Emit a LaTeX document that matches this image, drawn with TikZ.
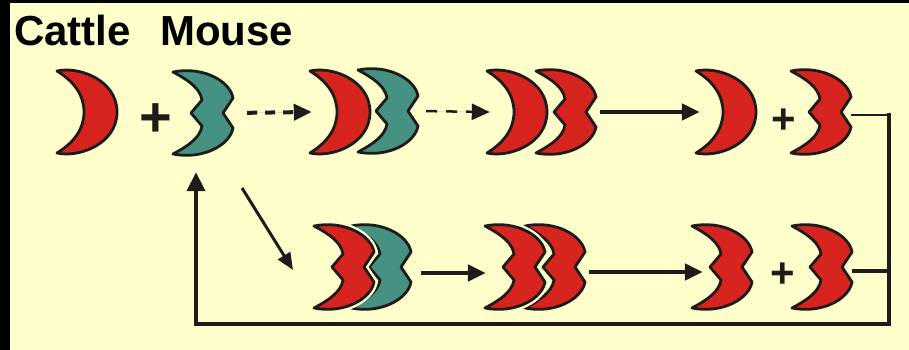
\documentclass[tikz,border=0pt]{standalone}
\usepackage{fontspec}
\setmainfont{Liberation Sans}
\usetikzlibrary{arrows.meta}
\definecolor{paleyellow}{RGB}{255,255,204}
\definecolor{cattlered}{RGB}{216,36,30}
\definecolor{mouseteal}{RGB}{69,146,131}
\definecolor{inkblack}{RGB}{30,27,26}

\begin{document}
\begin{tikzpicture}[x=1pt, y=-1pt,
    outline/.style={draw=inkblack, line width=2.8pt, line join=round},
    shape extra/.style={},
    gap/.style={preaction={draw=paleyellow, line width=7.5pt, line join=round}},
    slot/.style={minimum width=60pt, minimum height=84pt, inner sep=0pt},
    title/.style={font=\bfseries\fontsize{42}{46}\selectfont, inner sep=0pt, anchor=base west},
    plus/.style={font=\bfseries\fontsize{#1}{#1}\selectfont, inner sep=0pt, text=inkblack},
    pics/cattle/.style={code={
        \path[outline, fill=#1, shape extra] (-30,41) .. controls (-8,46) and (30,32) .. (30,0)
            .. controls (30,-32) and (-8,-46) .. (-30,-41)
            .. controls (-12,-30) and (-3,-16) .. (-3,0)
            .. controls (-3,16) and (-12,30) .. cycle;}},
    pics/mouse/.style={code={
        \path[outline, fill=#1, shape extra] (-30,41) .. controls (0,47) and (27,32) .. (30,15)
            -- (20,0) -- (30,-15) .. controls (27,-32) and (0,-47) .. (-30,-41)
            .. controls (-15,-33) and (-3,-25) .. (-1,-13) -- (-12,0) -- (-1,13)
            .. controls (-3,25) and (-15,33) .. cycle;}},
    tip/.style={-{Triangle[length=18pt, width=16pt]}, draw=inkblack, fill=inkblack},
    dasharrow/.style={tip, line width=4pt, dash pattern=on 10pt off 8pt},
    thindash/.style={tip, line width=2.5pt, dash pattern=on 11pt off 9pt},
    solidarrow/.style={tip, line width=4.5pt},
    loopline/.style={draw=inkblack, line width=4pt},
  ]
  \useasboundingbox (0,0) rectangle (909,350);
  \fill[paleyellow] (0,0) rectangle (909,350);
  \fill[black] (0,0) rectangle (10,350);
  \fill[black] (0,0) rectangle (909,3);

  % Labels
  \node[title] (cattle) at (14,46) {Cattle};
  \node[title] (mouse) at (160,46) {Mouse};

  % Top row
  \node[slot] (c1) at (87,112) {};
  \node[slot] (m1) at (203,113) {};
  \node[slot] (c2) at (340,112) {};
  \node[slot] (m2) at (388,111) {};
  \node[slot] (c3) at (517,112) {};
  \node[slot] (r3) at (566,112) {};
  \node[slot] (c4) at (726,112) {};
  \node[slot] (r4) at (821,112) {};
  \pic at (c1) {cattle=cattlered};
  \pic at (m1) {mouse=mouseteal};
  \pic at (c2) {cattle=cattlered};
  \pic at (m2) {mouse=mouseteal};
  \pic at (r3) {mouse=cattlered};
  \pic at (c3) {cattle=cattlered};
  \pic at (c4) {cattle=cattlered};
  \pic at (r4) {mouse=cattlered};
  \node[plus=56] (p1) at (156,120) {+};
  \node[plus=42] (p2) at (784,121) {+};

  % Bottom row
  \node[slot] (r5) at (344,267) {};
  \node[slot] (t5) at (381,267) {};
  \node[slot] (r6) at (515,267) {};
  \node[slot] (r6b) at (555,267) {};
  \node[slot] (r7) at (722,267) {};
  \node[slot] (r8) at (822,267) {};
  \pic at (t5) {mouse=mouseteal};
  \pic[shape extra/.style=gap] at (r5) {mouse=cattlered};
  \pic at (r6b) {mouse=cattlered};
  \pic[shape extra/.style=gap] at (r6) {mouse=cattlered};
  \pic at (r7) {mouse=cattlered};
  \pic at (r8) {mouse=cattlered};
  \node[plus=42] (p3) at (783,275) {+};

  % Arrows
  \draw[dasharrow, shorten <=14pt, shorten >=-2pt] (m1.east) -- (c2.west);
  \draw[thindash, shorten <=8pt, shorten >=-3pt] (m2.east) -- (c3.west);
  \draw[solidarrow, shorten <=4pt, shorten >=-4pt] (r3.east) -- (c4.west);
  \draw[solidarrow, shorten <=10pt, shorten >=-1pt] ([yshift=-6pt]t5.east) -- ([yshift=-6pt]r6.west);
  \draw[solidarrow, shorten <=4pt, shorten >=-11pt] ([yshift=-5pt]r6b.east) -- ([yshift=-5pt]r7.west);

  % Side branch
  \coordinate (d0) at (242,188);
  \coordinate (d1) at (293,270);
  \draw[tip, line width=3pt, -{Triangle[length=17pt, width=14pt]}] (d0) -- (d1);

  % Return loop
  \coordinate (ne) at (889,113);
  \coordinate (se) at (889,324);
  \coordinate (sw) at (196,324);
  \coordinate (jr) at ([yshift=-4pt]r8.east);
  \draw[draw=inkblack, line width=1.5pt] ([yshift=-3pt]r4.east) -- ([yshift=-3pt]r4.east -| ne);
  \draw[loopline] (jr) -- (jr -| se);
  \draw[loopline, -{Triangle[length=19pt, width=18pt]}, shorten >=17pt] (ne) -- (se) -- (sw) -- (sw |- m1.south);
\end{tikzpicture}
\end{document}
